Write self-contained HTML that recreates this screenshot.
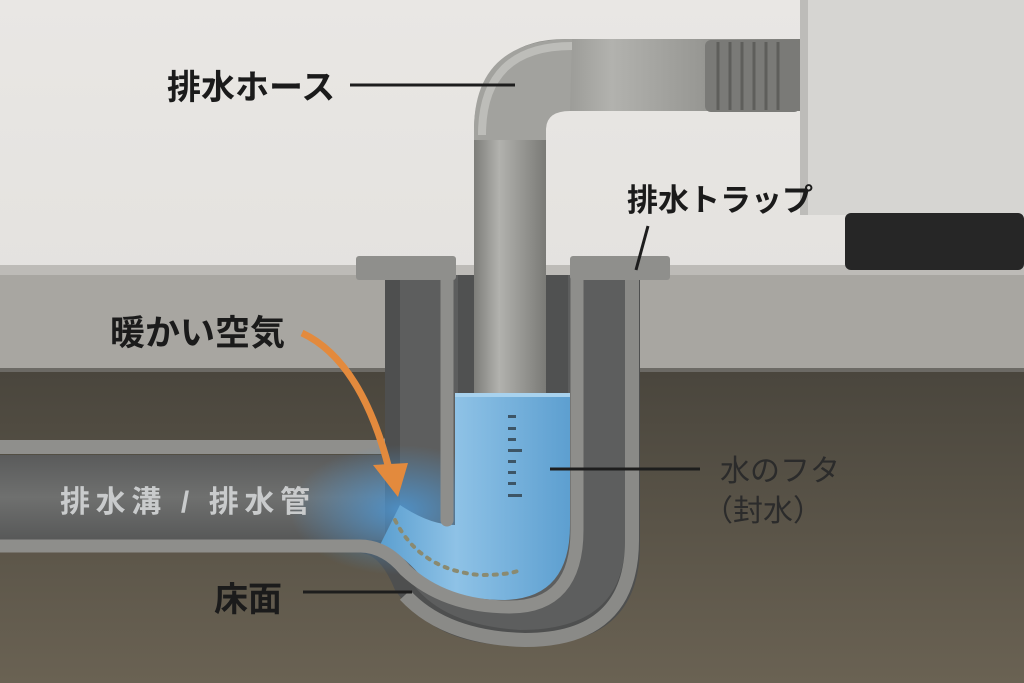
<!DOCTYPE html>
<html><head><meta charset="utf-8"><style>
html,body{margin:0;padding:0;width:1024px;height:683px;overflow:hidden;background:#e4e2df}
svg{display:block}
text{font-family:"Liberation Sans","Noto Sans CJK JP",sans-serif}
</style></head><body>
<svg width="1024" height="683" viewBox="0 0 1024 683" xmlns="http://www.w3.org/2000/svg">
<defs>
<linearGradient id="wall" x1="0" y1="0" x2="0" y2="1"><stop offset="0" stop-color="#e9e7e4"/><stop offset="1" stop-color="#dddbd8"/></linearGradient>
<linearGradient id="ground" x1="0" y1="0" x2="0" y2="1"><stop offset="0" stop-color="#4a463d"/><stop offset="1" stop-color="#6a6253"/></linearGradient>
<linearGradient id="hoseV" x1="0" y1="0" x2="1" y2="0"><stop offset="0" stop-color="#7d7d79"/><stop offset=".35" stop-color="#b2b2ae"/><stop offset="1" stop-color="#7a7a76"/></linearGradient>
<linearGradient id="hoseH" x1="0" y1="0" x2="0" y2="1"><stop offset="0" stop-color="#7d7d79"/><stop offset=".35" stop-color="#b2b2ae"/><stop offset="1" stop-color="#7a7a76"/></linearGradient>
<linearGradient id="water" x1="0" y1="0" x2="1" y2="0"><stop offset="0" stop-color="#5b9fd0"/><stop offset=".4" stop-color="#8ec2e6"/><stop offset="1" stop-color="#5d9fd0"/></linearGradient>
<radialGradient id="glow" cx=".5" cy=".5" r=".5"><stop offset="0" stop-color="#4e95d0" stop-opacity=".9"/><stop offset="1" stop-color="#4e95d0" stop-opacity="0"/></radialGradient>
<linearGradient id="pipe" x1="0" y1="0" x2="0" y2="1"><stop offset="0" stop-color="#5a5b5b"/><stop offset=".5" stop-color="#6f706f"/><stop offset="1" stop-color="#575858"/></linearGradient>
</defs>
<rect width="1024" height="683" fill="url(#wall)"/>
<rect y="265" width="1024" height="105" fill="#a8a6a1"/>
<rect y="265" width="1024" height="10" fill="#bdbbb7"/>
<rect y="368" width="1024" height="4" fill="#6c6a65"/>
<rect y="372" width="1024" height="311" fill="url(#ground)"/>
<rect x="800" y="0" width="224" height="215" fill="#d6d5d2"/>
<rect x="800" y="0" width="8" height="215" fill="#bdbcb9"/>
<rect x="845" y="213" width="179" height="57" rx="6" fill="#262626"/>
<rect x="0" y="455" width="400" height="85" fill="url(#pipe)"/>
<path d="M0 447 L380 447 Q393 447 393 432 L393 275" fill="none" stroke="#8f8f8c" stroke-width="14"/>
<path d="M385 275 L640 275 L640 545 Q640 645 530 645 L500 645 Q430 640 395 590 Q380 553 360 553 L360 540 L385 540 Z" fill="#4e4f4f"/>
<path d="M400 275 L625 275 L625 540 Q625 630 520 630 Q440 625 410 580 L400 540 Z" fill="#5d5e5e"/>
<ellipse cx="400" cy="510" rx="110" ry="65" fill="url(#glow)"/>
<path d="M455 395 L570 395 L570 525 Q570 598 505 600 Q450 600 420 575 Q400 552 380 545 L400 505 Q430 525 455 525 Z" fill="url(#water)"/>
<path d="M0 546 L360 546 Q385 546 405 570 Q445 607 510 607 Q577 607 577 530 L577 272" fill="none" stroke="#8e8e8b" stroke-width="13"/>
<path d="M447 272 L447 520" fill="none" stroke="#8e8e8b" stroke-width="13" stroke-linecap="round"/>
<path d="M632 272 L632 540 Q632 640 525 640 Q445 638 405 595" fill="none" stroke="#8a8a87" stroke-width="14"/>
<rect x="356" y="256" width="100" height="24" rx="3" fill="#8f8f8c"/>
<rect x="570" y="256" width="100" height="24" rx="3" fill="#8f8f8c"/>
<path d="M458 275 L568 275 L568 395 L458 395Z" fill="#434444" opacity=".5"/>
<path d="M800 75 L565 75 Q510 75 510 130 L510 395" fill="none" stroke="url(#hoseV)" stroke-width="72"/>
<path d="M800 75 L570 75" fill="none" stroke="url(#hoseH)" stroke-width="72"/>
<path d="M572 39 Q474 39 474 130 L474 140 L546 140 L546 130 Q546 111 570 111Z" fill="#a2a29e"/>
<path d="M572 46 Q482 46 482 135" fill="none" stroke="#bdbdb9" stroke-width="8"/>
<rect x="474" y="140" width="72" height="255" fill="url(#hoseV)"/>
<rect x="705" y="40" width="95" height="72" rx="6" fill="#7a7a77"/>
<g stroke="#5e5e5b" stroke-width="3"><line x1="718" y1="42" x2="718" y2="110"/><line x1="730" y1="42" x2="730" y2="110"/><line x1="742" y1="42" x2="742" y2="110"/><line x1="754" y1="42" x2="754" y2="110"/><line x1="766" y1="42" x2="766" y2="110"/><line x1="778" y1="42" x2="778" y2="110"/></g>
<rect x="455" y="393" width="115" height="4" fill="#a8d2ee"/>
<g fill="#3d5566"><rect x="508" y="415" width="8" height="3"/><rect x="508" y="427" width="8" height="3"/><rect x="508" y="438" width="8" height="3"/><rect x="508" y="449" width="14" height="3"/><rect x="508" y="460" width="8" height="3"/><rect x="508" y="471" width="8" height="3"/><rect x="508" y="482" width="8" height="3"/><rect x="508" y="494" width="14" height="3"/></g>
<path d="M395 520 Q420 570 480 575 Q510 575 520 570" fill="none" stroke="#8a8a70" stroke-width="4" stroke-dasharray="3 7" stroke-linecap="round"/>
<path d="M302 333 Q360 360 388 465" fill="none" stroke="#e38a3d" stroke-width="7"/>
<path d="M373 465 L408 463 L398 497Z" fill="#e38a3d"/>
<g stroke="#1d1d1d" stroke-width="3"><line x1="350" y1="85" x2="515" y2="85"/><line x1="648" y1="226" x2="636" y2="270"/><line x1="550" y1="469" x2="700" y2="469"/><line x1="303" y1="592" x2="412" y2="592"/></g>
<g font-weight="bold" fill="#1b1b1b">
<text x="167" y="99" font-size="34">排水ホース</text>
<text x="627" y="211" font-size="31">排水トラップ</text>
<text x="110" y="345" font-size="35">暖かい空気</text>
<text x="214" y="611" font-size="34">床面</text>
</g>
<text x="60" y="512" font-size="30" font-weight="bold" fill="#c9cbcc" textLength="250" lengthAdjust="spacing">排水溝 / 排水管</text>
<text x="720" y="481" font-size="30" fill="#2b2b2b">水のフタ</text>
<text x="703" y="521" font-size="30" fill="#2b2b2b">（封水）</text>
</svg>
</body></html>
